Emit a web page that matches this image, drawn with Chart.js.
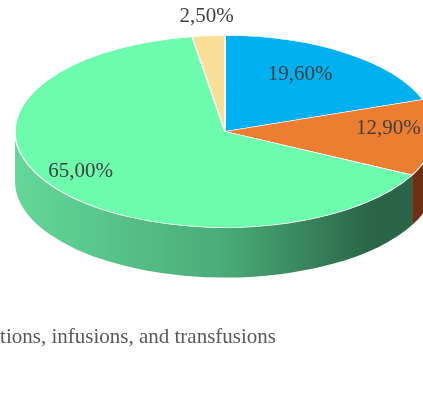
<!DOCTYPE html>
<html>
<head>
<meta charset="utf-8">
<script src="https://cdn.jsdelivr.net/npm/chart.js@4"></script>
<style>
  html, body { margin: 0; padding: 0; background: #fff; overflow: hidden; }
  #wrap { position: relative; width: 423px; height: 410px; overflow: hidden; }
  #pieCanvas { position: absolute; left: -361px; top: -60px; }
</style>
</head>
<body>
<div id="wrap"><canvas id="pieCanvas" width="1172" height="470"></canvas></div>
<script>
// chart data
const categories = ['Oral', 'Topical', 'Inhalation', 'Injections, infusions, and transfusions'];
const shares = [19.6, 12.9, 65.0, 2.5];

// colours: top face, then side wall gradient (left -> right)
const topColors = ['#00B0F0', '#ED7D31', '#6DFBAE', '#FADF96'];
const sideColors = [
    ['#0096CC', '#007BA8', '#005A7C'],
    ['#D0692E', '#A54D20', '#6E3014'],
    ['#63D898', '#4AAB78', '#2A6547'],
    ['#DCC47F', '#BFA665', '#8F7B45']
];

const tilt = 96 / 210;   // vertical squash of the top face
const depth = 50;        // thickness of the pie in px
const labelRadius = [0.62, 0.78, 0.85, 1.12];
const labelLift = 8;

function pct(v) {
    return v.toFixed(2).replace('.', ',') + '%';
}

// draws the side wall, squashes the top face and writes the value labels
const pie3d = {
    id: 'pie3d',
    beforeDatasetsDraw(chart) {
        const ctx = chart.ctx;
        const arcs = chart.getDatasetMeta(0).data;
        const { x, y, outerRadius } = arcs[0];
        const ry = outerRadius * tilt;

        arcs.forEach((arc, i) => {
            // only the front half (0..PI) of the wall can be seen
            const a0 = Math.max(arc.startAngle, 0);
            const a1 = Math.min(arc.endAngle, Math.PI);
            if (a1 <= a0) return;
            const g = ctx.createLinearGradient(x - outerRadius, 0, x + outerRadius, 0);
            g.addColorStop(0, sideColors[i][0]);
            g.addColorStop(0.5, sideColors[i][1]);
            g.addColorStop(0.85, sideColors[i][2]);
            g.addColorStop(1, sideColors[i][2]);
            ctx.beginPath();
            ctx.ellipse(x, y, outerRadius, ry, 0, a0, a1);
            ctx.ellipse(x, y + depth, outerRadius, ry, 0, a1, a0, true);
            ctx.closePath();
            ctx.fillStyle = g;
            ctx.fill();
        });

        ctx.save();
        ctx.translate(x, y);
        ctx.scale(1, tilt);
        ctx.translate(-x, -y);
    },
    afterDatasetsDraw(chart) {
        const ctx = chart.ctx;
        ctx.restore();

        const arcs = chart.getDatasetMeta(0).data;
        ctx.save();
        ctx.font = '21px "Liberation Serif"';
        ctx.fillStyle = '#404040';
        ctx.textAlign = 'center';
        ctx.textBaseline = 'middle';
        arcs.forEach((arc, i) => {
            const mid = (arc.startAngle + arc.endAngle) / 2;
            const f = labelRadius[i];
            const lx = arc.x + Math.cos(mid) * arc.outerRadius * f;
            const ly = arc.y + Math.sin(mid) * arc.outerRadius * tilt * f - labelLift;
            ctx.fillText(pct(shares[i]), lx, ly);
        });
        ctx.restore();
    }
};

new Chart(document.getElementById('pieCanvas'), {
    type: 'pie',
    data: {
        labels: categories,
        datasets: [{
            data: shares,
            backgroundColor: topColors,
            borderColor: '#FFFFFF',
            borderWidth: 1.5,
            radius: 210,
            clip: false
        }]
    },
    options: {
        responsive: false,
        animation: false,
        events: [],
        radius: 210,
        layout: { padding: { top: 6, bottom: 52, left: 0, right: 0 } },
        plugins: {
            legend: {
                position: 'bottom',
                align: 'start',
                labels: {
                    font: { family: 'Liberation Serif', size: 21 },
                    color: '#595959',
                    boxWidth: 13,
                    boxHeight: 13,
                    padding: 10
                }
            },
            tooltip: { enabled: false }
        }
    },
    plugins: [pie3d]
});
</script>
</body>
</html>
